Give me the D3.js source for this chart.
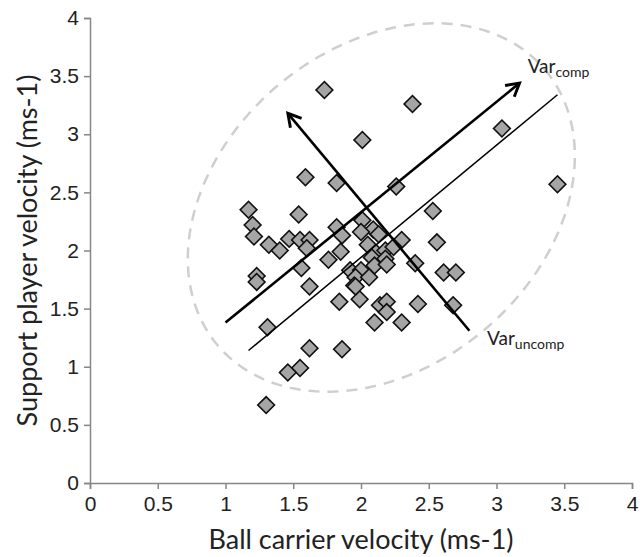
<!DOCTYPE html>
<html>
<head>
<meta charset="utf-8">
<script src="https://cdn.jsdelivr.net/npm/d3@7"></script>
<style>
  body { margin: 0; background: #fff; }
  svg { display: block; font-family: Lato, "Open Sans", sans-serif; }
</style>
</head>
<body>
<svg></svg>
<script>
const width = 640, height = 557;
const margin = { left: 90, right: 8, top: 18, bottom: 74 };

// ball carrier velocity (x) and support player velocity (y)
const ball_carrier = [
  1.73, 2.38, 2.01, 3.04, 3.45, 1.59, 1.82, 2.26, 1.17, 1.20,
  1.21, 1.54, 2.53, 1.32, 1.40, 1.47, 1.55, 1.62, 1.60, 1.82,
  1.86, 1.85, 1.76, 1.56, 1.23, 1.23, 1.62, 2.01, 2.09, 2.13,
  2.30, 2.56, 2.05, 2.11, 2.18, 2.08, 2.18, 2.10, 2.19, 2.40,
  1.92, 2.00, 1.96, 2.06, 1.95, 2.61, 2.70, 2.68, 2.42, 2.14,
  2.19, 2.19, 2.10, 2.30, 1.99, 1.96, 1.84, 1.86, 1.31, 1.62,
  1.55, 1.46, 1.30, 2.00, 2.24
];
const support_player = [
  3.38, 3.26, 2.95, 3.05, 2.57, 2.63, 2.58, 2.55, 2.35, 2.22,
  2.12, 2.31, 2.34, 2.05, 2.00, 2.10, 2.09, 2.09, 2.02, 2.20,
  2.13, 1.99, 1.92, 1.85, 1.78, 1.73, 1.69, 2.26, 2.18, 2.14,
  2.09, 2.07, 2.05, 1.98, 2.00, 1.94, 1.93, 1.87, 1.88, 1.89,
  1.83, 1.83, 1.77, 1.77, 1.70, 1.81, 1.81, 1.53, 1.54, 1.53,
  1.56, 1.47, 1.38, 1.38, 1.58, 1.69, 1.56, 1.15, 1.34, 1.16,
  0.99, 0.95, 0.67, 2.16, 2.03
];

const ticks = [0, 0.5, 1, 1.5, 2, 2.5, 3, 3.5, 4];
const x_label = "Ball carrier velocity (ms-1)";
const y_label = "Support  player velocity (ms-1)";

// annotation lines, in data units: [x1, y1, x2, y2]
const comp_arrow = [1.00, 1.38, 3.17, 3.44];
const comp_line = [1.17, 1.14, 3.45, 3.34];
const uncomp_arrow = [2.80, 1.31, 1.46, 3.18];
const comp_label_at = [3.23, 3.53];
const uncomp_label_at = [2.93, 1.19];
const ellipse_center = [2.15, 2.37];

const svg = d3.select("svg").attr("width", width).attr("height", height);

const x_scale = d3.scaleLinear().domain([0, 4]).range([margin.left, width - margin.right]);
const y_scale = d3.scaleLinear().domain([0, 4]).range([height - margin.bottom, margin.top]);

// x axis
const x_axis = d3.axisBottom(x_scale).tickValues(ticks).tickFormat(d3.format("")).tickSize(6).tickPadding(3);
const gx = svg.append("g")
  .attr("transform", `translate(0,${y_scale(0)})`)
  .call(x_axis);

// y axis
const y_axis = d3.axisLeft(y_scale).tickValues(ticks).tickFormat(d3.format("")).tickSize(6).tickPadding(5);
const gy = svg.append("g")
  .attr("transform", `translate(${x_scale(0)},0)`)
  .call(y_axis);

[gx, gy].forEach(g => {
  g.select(".domain").attr("stroke", "#868686").attr("stroke-width", 1.5);
  g.selectAll(".tick line").attr("stroke", "#868686").attr("stroke-width", 1.5);
  g.selectAll(".tick text").attr("fill", "#222").style("font-size", "21px");
});
gx.selectAll(".tick text").attr("dy", "0.9em");

// dashed ellipse
const ex = x_scale(ellipse_center[0]), ey = y_scale(ellipse_center[1]);
const ea = 214, eb = 160, rot = -40 * Math.PI / 180;
const ellipse_pts = d3.range(0, 361, 2).map(t => {
  const a = t * Math.PI / 180;
  const px = ea * Math.cos(a), py = eb * Math.sin(a);
  return [ex + px * Math.cos(rot) - py * Math.sin(rot), ey + px * Math.sin(rot) + py * Math.cos(rot)];
});
svg.append("path")
  .attr("d", d3.line()(ellipse_pts) + "Z")
  .attr("fill", "none")
  .attr("stroke", "#cfcfcf")
  .attr("stroke-width", 2.5)
  .attr("stroke-dasharray", "11,8");

// arrow head
svg.append("defs").append("marker")
  .attr("id", "head")
  .attr("viewBox", "0 0 10 10")
  .attr("refX", 8).attr("refY", 5)
  .attr("markerWidth", 7).attr("markerHeight", 7)
  .attr("orient", "auto")
  .append("path")
  .attr("d", "M1,1 L8,5 L1,9")
  .attr("fill", "none")
  .attr("stroke", "#000")
  .attr("stroke-width", 1.6);

const draw_line = (l, w, arrow) => {
  const p = svg.append("line")
    .attr("x1", x_scale(l[0])).attr("y1", y_scale(l[1]))
    .attr("x2", x_scale(l[2])).attr("y2", y_scale(l[3]))
    .attr("stroke", "#000")
    .attr("stroke-width", w);
  if (arrow) p.attr("marker-end", "url(#head)");
};

// points
const pts = ball_carrier.map((x, i) => ({ x, y: support_player[i] }));
svg.append("g")
  .selectAll("path")
  .data(pts)
  .join("path")
  .attr("d", d3.symbol(d3.symbolSquare, 140))
  .attr("transform", d => `translate(${x_scale(d.x)},${y_scale(d.y)}) rotate(45)`)
  .attr("fill", "#a5a5a5")
  .attr("stroke", "#111")
  .attr("stroke-width", 1.6);

draw_line(comp_line, 1.5, false);
draw_line(comp_arrow, 2.6, true);
draw_line(uncomp_arrow, 2.6, true);

// labels for the variance directions
const var_label = (at, sub) => {
  const t = svg.append("text")
    .attr("x", x_scale(at[0])).attr("y", y_scale(at[1]))
    .attr("fill", "#222")
    .style("font-size", "19px");
  t.append("tspan").text("Var");
  t.append("tspan").attr("dy", 4).style("font-size", "14px").text(sub);
};
var_label(comp_label_at, "comp");
var_label(uncomp_label_at, "uncomp");

// axis titles
svg.append("text")
  .attr("x", x_scale(2))
  .attr("y", height - 8)
  .attr("text-anchor", "middle")
  .attr("fill", "#222")
  .style("font-size", "27px")
  .text(x_label);

svg.append("text")
  .attr("text-anchor", "middle")
  .attr("transform", `translate(37,${y_scale(2)}) rotate(-90)`)
  .attr("fill", "#222")
  .style("font-size", "27px")
  .text(y_label);
</script>
</body>
</html>
